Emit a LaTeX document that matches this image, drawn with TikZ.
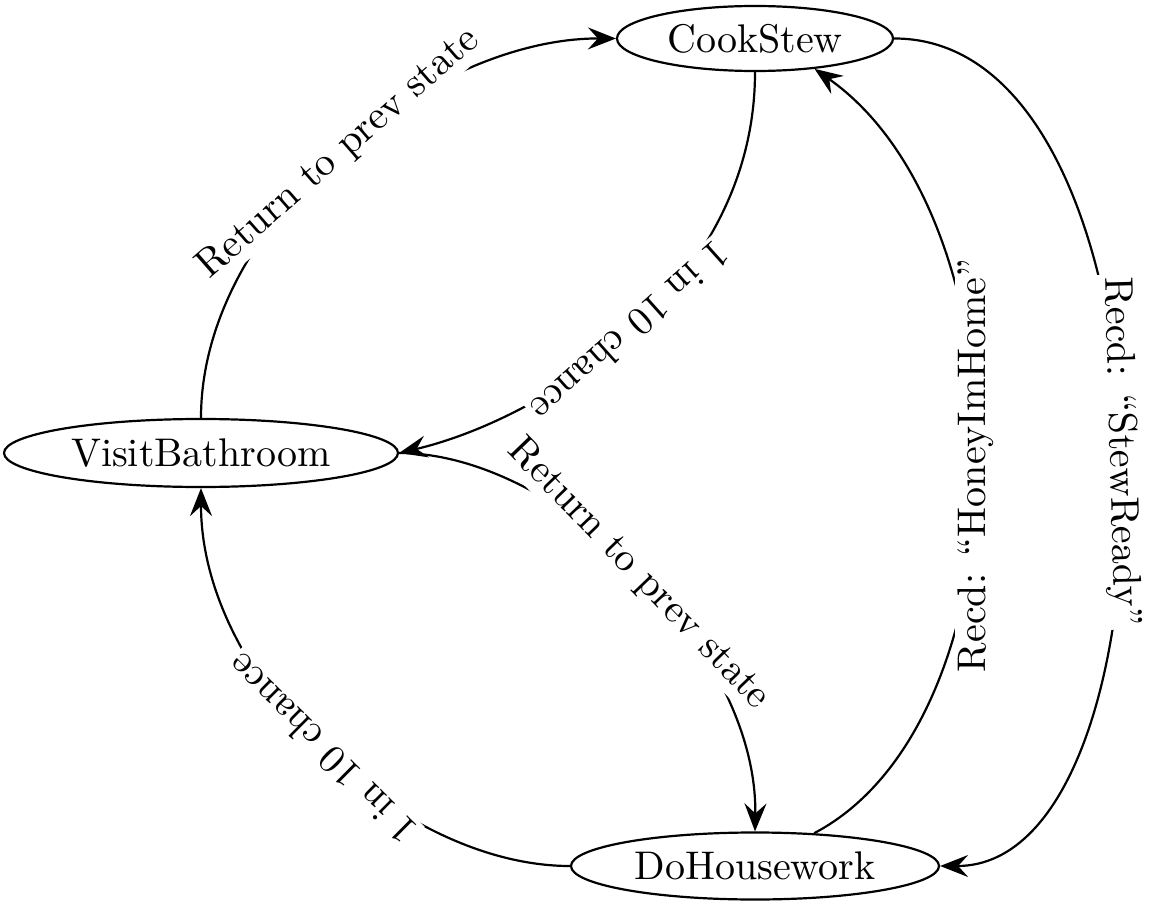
\documentclass[tikz,border=0pt]{standalone}
\usepackage{fontspec}
\newfontfamily\lmten[Ligatures=TeX]{lmroman10-regular.otf}
\usetikzlibrary{shapes.geometric,arrows.meta}
\tikzset{
  statenode/.style={ellipse, draw, line width=1.1pt, inner sep=0pt, font=\lmten\fontsize{20}{24}\selectfont},
  edgeline/.style={line width=1.1pt, -{Stealth[length=14pt,width=11pt,inset=5pt]}},
  edgelabel/.style={sloped, allow upside down, fill=white, inner sep=1.5pt, font=\lmten\fontsize{20}{24}\selectfont},
}
\begin{document}
\begin{tikzpicture}[x=0.5pt,y=-0.5pt]
\useasboundingbox (0,0) rectangle (1152,904);
\node[statenode, minimum width=138pt, minimum height=32.5pt] (cs) at (755,38.5) {CookStew};
\node[statenode, minimum width=197pt, minimum height=34pt] (vb) at (201,453) {VisitBathroom};
\node[statenode, minimum width=184pt, minimum height=33.5pt] (dh) at (755,866) {DoHousework};

\draw[edgeline] (vb.north) .. controls (201,220) and (430,38) .. (cs.west)
  node[edgelabel, pos=0.5] {Return to prev state};
\draw[edgeline] (cs.south) .. controls (755,290) and (540,420) .. (vb.east)
  node[edgelabel, pos=0.5] {1 in 10 chance};
\draw[edgeline] (vb.east) .. controls (560,453) and (758,650) .. (dh.north)
  node[edgelabel, pos=0.5] {Return to prev state};
\draw[edgeline] (dh.west) .. controls (400,866) and (201,680) .. (vb.south)
  node[edgelabel, pos=0.5] {1 in 10 chance};
\draw[edgeline] (dh.29) .. controls (1030,720) and (1030,220) .. (cs.-27)
  node[edgelabel, pos=0.5] {Recd: ``HoneyImHome''};
\draw[edgeline] (cs.east) .. controls (1188,38) and (1188,866) .. (dh.east)
  node[edgelabel, pos=0.5] {Recd: ``StewReady''};
\end{tikzpicture}
\end{document}
